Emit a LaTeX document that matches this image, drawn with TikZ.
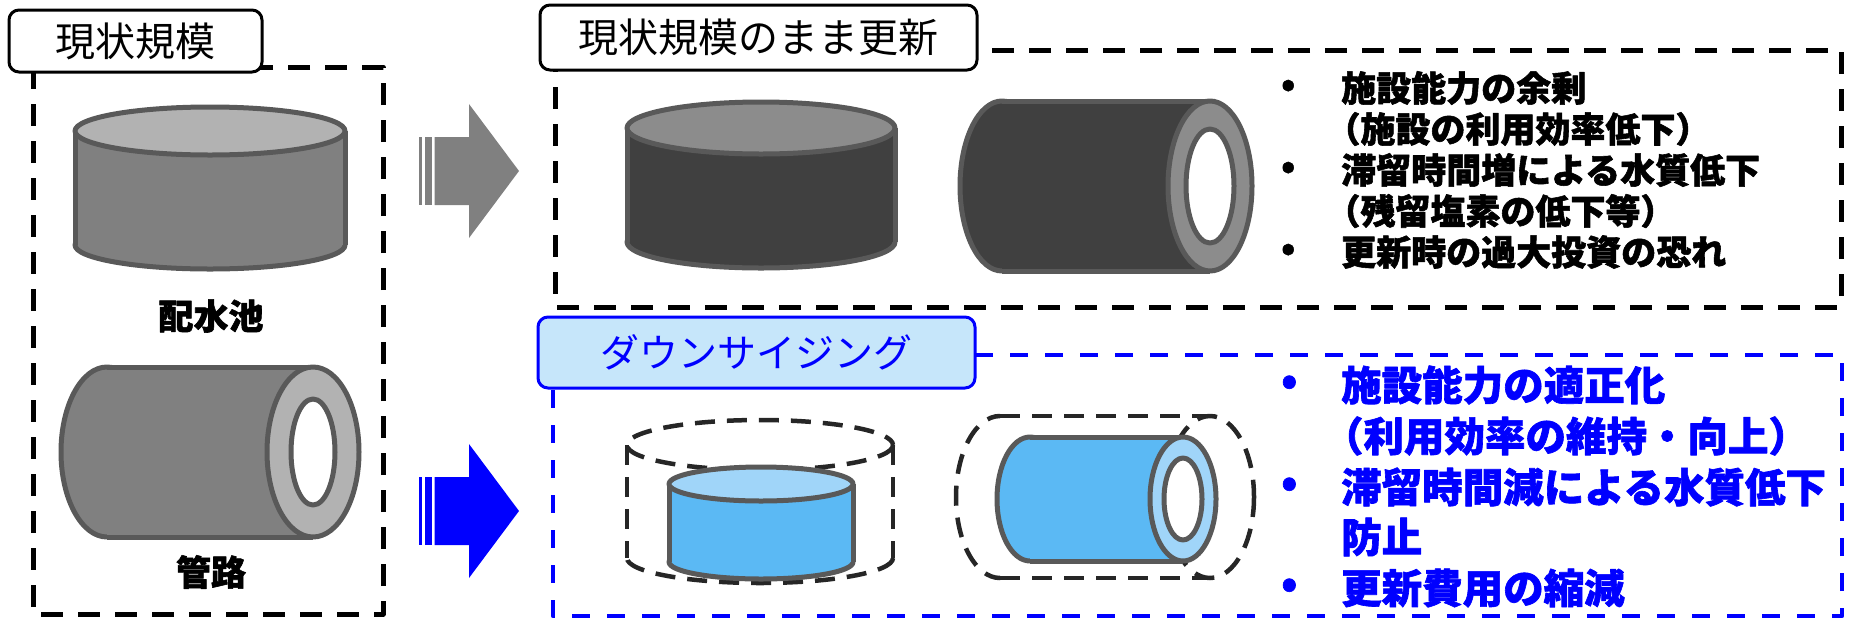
\documentclass[tikz,border=0pt]{standalone}
\usepackage{fontspec}
\setmainfont{Noto Sans CJK JP}
\newfontfamily\jp{Noto Sans CJK JP}[BoldFeatures={FakeBold=1.6}]

\definecolor{outl}{HTML}{595959}
\definecolor{dashk}{HTML}{262626}
\definecolor{arrowgray}{HTML}{808080}
\definecolor{lgbody}{HTML}{808080}
\definecolor{lgtop}{HTML}{B2B2B2}
\definecolor{dkbody}{HTML}{404040}
\definecolor{dktop}{HTML}{8C8C8C}
\definecolor{bluebody}{HTML}{5BB9F4}
\definecolor{bluetop}{HTML}{A0D5F9}
\definecolor{titleblue}{HTML}{C6E6FA}
\definecolor{pureblue}{HTML}{0000FF}

\tikzset{
  shapeline/.style={draw=outl, line width=5pt},
  frameblack/.style={draw=black, line width=5pt, dash pattern=on 22pt off 15pt},
  frameblue/.style={draw=pureblue, line width=4.5pt, dash pattern=on 18pt off 17pt},
  ghost/.style={draw=dashk, line width=4.5pt, dash pattern=on 20pt off 12pt},
  titlebox/.style={draw=black, line width=3pt, rounded corners=10pt, fill=white,
    inner sep=0pt, font=\jp\fontsize{40}{44}\selectfont},
  bluetitle/.style={titlebox, draw=pureblue, fill=titleblue, text=pureblue,
    font=\jp\fontsize{39}{44}\selectfont},
  label/.style={inner sep=0pt, font=\jp\bfseries\fontsize{35}{40}\selectfont},
  blackitem/.style={anchor=west, inner sep=0pt, font=\jp\bfseries\fontsize{35}{40}\selectfont},
  blueitem/.style={anchor=west, inner sep=0pt, text=pureblue, font=\jp\bfseries\fontsize{40.5}{46}\selectfont},
}

% vertical cylinder: centre x, top y, bottom y, x radius, y radius, body, top
\newcommand\tank[7]{%
  \filldraw[fill=#6, shapeline] (#1,#3) ellipse[x radius=#4, y radius=#5];
  \fill[#6] (#1-#4,#2) rectangle (#1+#4,#3);
  \draw[shapeline] (#1-#4,#2) -- (#1-#4,#3) (#1+#4,#2) -- (#1+#4,#3);
  \filldraw[fill=#7, shapeline] (#1,#2) ellipse[x radius=#4, y radius=#5];
}
% horizontal pipe: back x, front x, centre y, x radius, y radius, bore x radius, bore y radius, body, rim
\newcommand\pipe[9]{%
  \filldraw[fill=#8, shapeline] (#1,#3) ellipse[x radius=#4, y radius=#5];
  \fill[#8] (#1,#3-#5) rectangle (#2,#3+#5);
  \draw[shapeline] (#1,#3-#5) -- (#2,#3-#5) (#1,#3+#5) -- (#2,#3+#5);
  \filldraw[fill=#9, shapeline] (#2,#3) ellipse[x radius=#4, y radius=#5];
  \filldraw[fill=white, shapeline] (#2,#3) ellipse[x radius=#6, y radius=#7];
}
% striped block arrow pointing right: centre y, colour
\newcommand\stripedarrow[2]{%
  \fill[#2] (419,#1-34) rectangle (422,#1+34);
  \fill[#2] (425,#1-34) rectangle (432,#1+34);
  \fill[#2] (434.5,#1-34) -- (469,#1-34) -- (469,#1-67) -- (519,#1)
    -- (469,#1+67) -- (469,#1+34) -- (434.5,#1+34) -- cycle;
}

\begin{document}
\begin{tikzpicture}[x=1pt, y=-1pt, line join=round]
\useasboundingbox (0,0) rectangle (1849,619);

% dashed frames
\draw[frameblack] (33,67) rectangle (383,614);
\draw[frameblack] (555,50) rectangle (1841,307);
\draw[frameblue] (553,355) rectangle (1842,616);

% frame titles
\node[titlebox, minimum width=253pt, minimum height=62pt] (tcur) at (135.5,41) {現状規模};
\node[titlebox, minimum width=437pt, minimum height=65pt] (tkeep) at (758.5,37.5) {現状規模のまま更新};
\node[bluetitle, minimum width=437pt, minimum height=71pt] (tdown) at (756.5,352.5) {ダウンサイジング};

% present facilities
\tank{210}{131}{245}{135}{24}{lgbody}{lgtop}
\node[label] (lbltank) at (211,316) {配水池};
\pipe{107}{313}{452}{46}{85}{22}{53}{lgbody}{lgtop}
\node[label] (lblpipe) at (211,572) {管路};

% arrows
\stripedarrow{171}{arrowgray}
\stripedarrow{511}{pureblue}

% renewal at present scale
\tank{761}{128}{242}{134}{26}{dkbody}{dktop}
\pipe{1002}{1210}{186}{42}{85}{24}{57}{dkbody}{dktop}

% downsizing: former outline
\draw[ghost] (760,445) ellipse[x radius=133, y radius=25];
\draw[ghost] (627,445) -- (627,558) (893,445) -- (893,558);
\begin{scope}
  \clip (600,558) rectangle (920,600);
  \draw[ghost] (760,558) ellipse[x radius=133, y radius=25];
\end{scope}
\draw[ghost] (1000,416) -- (1210,416) (1000,578) -- (1210,578);
\begin{scope}
  \clip (940,400) rectangle (1000,600);
  \draw[ghost] (1000,497) ellipse[x radius=44, y radius=81];
\end{scope}
\draw[ghost] (1210,497) ellipse[x radius=44, y radius=81];

% downsized facilities
\tank{761}{484}{562}{92}{17}{bluebody}{bluetop}
\pipe{1030}{1183}{499}{33}{62}{19}{41}{bluebody}{bluetop}

% issues of renewal at present scale
\node[blackitem] (b1) at (1281,88) {•};
\node[blackitem] (k1) at (1341,88) {施設能力の余剰};
\node[blackitem] (k2) at (1341,129) {\kern-0.45em（施設の利用効率低下）};
\node[blackitem] (b2) at (1281,170) {•};
\node[blackitem] (k3) at (1341,170) {滞留時間増による水質低下};
\node[blackitem] (k4) at (1341,211) {\kern-0.45em（残留塩素の低下等）};
\node[blackitem] (b3) at (1281,252) {•};
\node[blackitem] (k5) at (1341,252) {更新時の過大投資の恐れ};

% effects of downsizing
\node[blueitem] (d1) at (1281,385) {•};
\node[blueitem] (s1) at (1341,385) {施設能力の適正化};
\node[blueitem] (s2) at (1341,436) {\kern-0.45em（利用効率の維持・向上）};
\node[blueitem] (d2) at (1281,487) {•};
\node[blueitem] (s3) at (1341,487) {滞留時間減による水質低下};
\node[blueitem] (s4) at (1341,537) {防止};
\node[blueitem] (d3) at (1281,588) {•};
\node[blueitem] (s5) at (1341,588) {更新費用の縮減};
\end{tikzpicture}
\end{document}
